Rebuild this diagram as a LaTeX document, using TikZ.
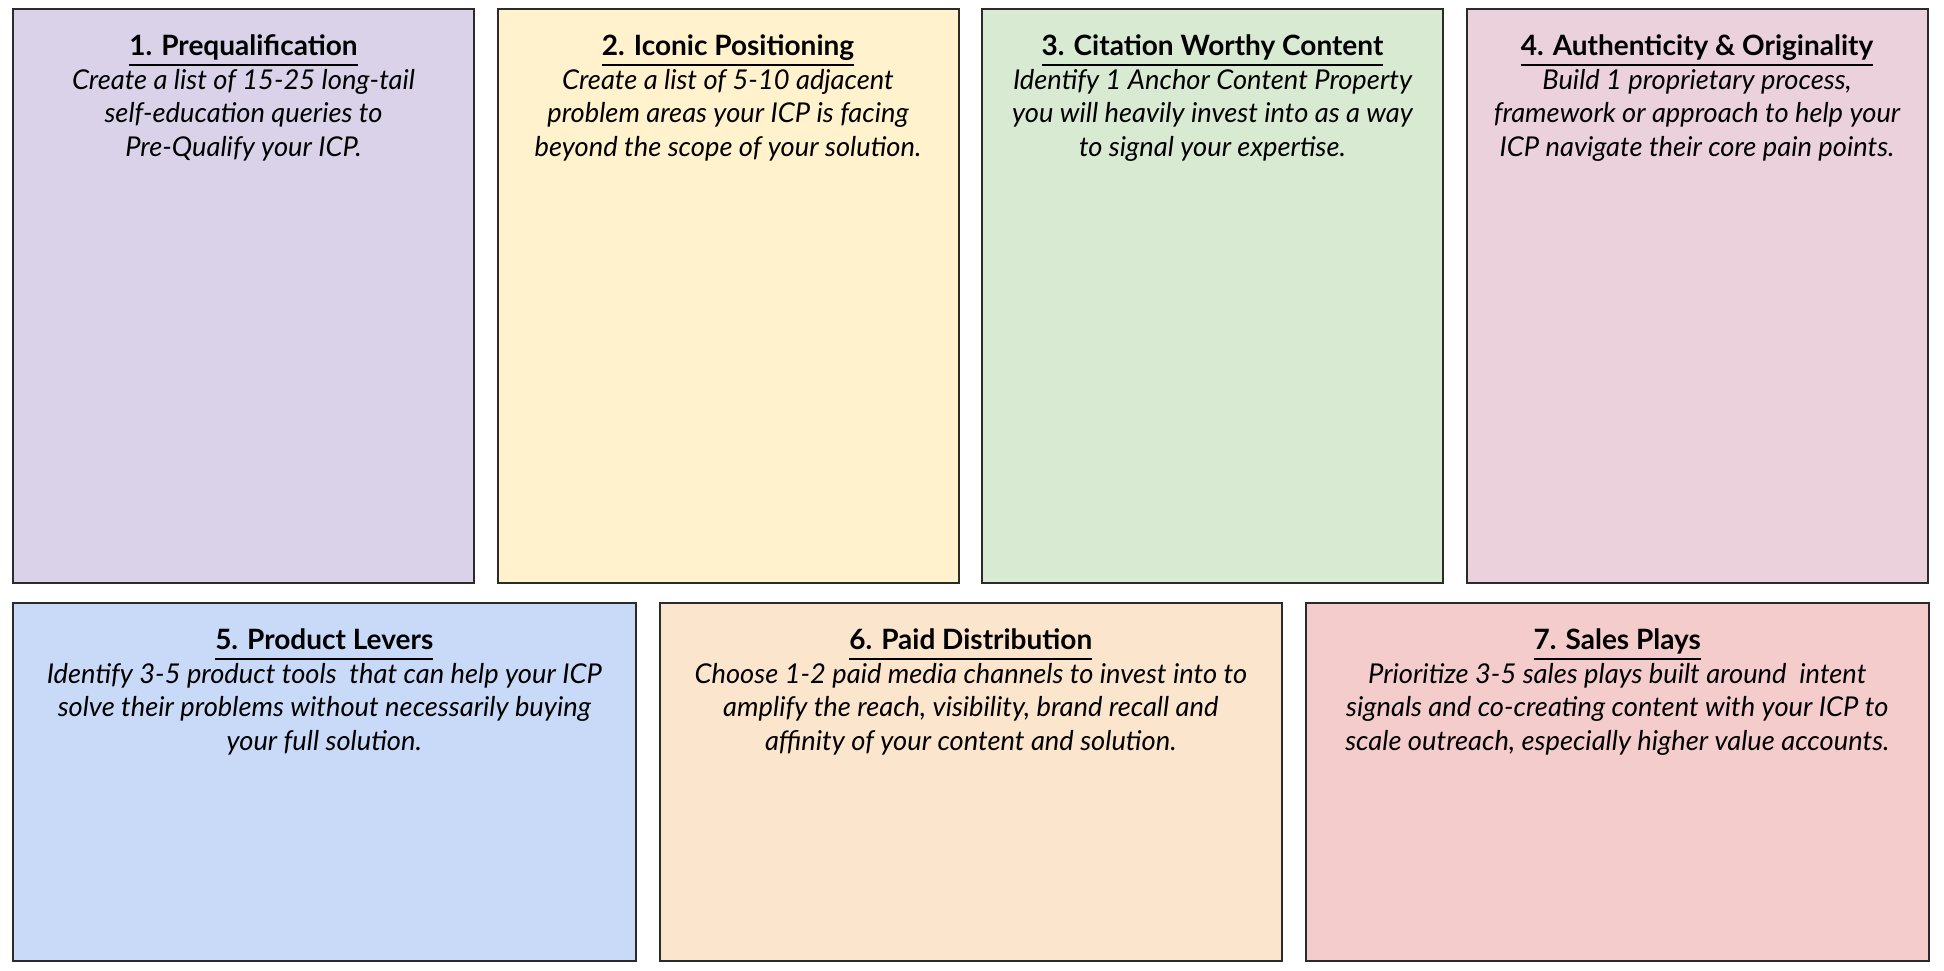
\documentclass[tikz,border=0pt]{standalone}
\usepackage{fontspec}
\setmainfont{Lato}
\definecolor{CardLav}{HTML}{D9D2E9}
\definecolor{CardYel}{HTML}{FFF2CC}
\definecolor{CardGrn}{HTML}{D9EAD3}
\definecolor{CardPnk}{HTML}{EAD1DC}
\definecolor{CardBlu}{HTML}{C9DAF8}
\definecolor{CardOrg}{HTML}{FCE5CD}
\definecolor{CardRed}{HTML}{F4CCCC}
\definecolor{CardLine}{HTML}{2B2B2B}
\newcommand\cardhead[1]{\setbox0\hbox{\fontsize{28}{33.5}\selectfont\upshape\bfseries #1}\rlap{\rule[-10pt]{\wd0}{1.6pt}}\box0}
\usetikzlibrary{positioning}

\begin{document}
\begin{tikzpicture}[x=1pt,y=-1pt,
 card/.style={rectangle,draw=CardLine,line width=2pt,inner sep=0pt,anchor=north west},
 topcard/.style={card,minimum width=461pt,minimum height=574pt},
 lowcard/.style={card,minimum width=622.5pt,minimum height=358pt},
 cardtxt/.style={anchor=north,inner sep=0pt,align=center,
   font=\fontsize{27.3}{33.5}\selectfont\itshape}]
\useasboundingbox (0,0) rectangle (1944,970);
\foreach \n/\x/\c in {pq/12/CardLav,icon/496.5/CardYel,cite/981/CardGrn,auth/1465.5/CardPnk}
 {\node[topcard,fill=\c] (\n) at (\x,8) {};}
\foreach \n/\x/\c in {prod/12/CardBlu,paid/658.5/CardOrg,sales/1305/CardRed}
 {\node[lowcard,fill=\c] (\n) at (\x,602) {};}
% top row
\node[cardtxt] (pq-t) at ([yshift=-26.5pt]pq.north)
 {\cardhead{1. Prequalification}\\ Create a list of 15-25 long-tail\\ self-education queries to\\ Pre-Qualify your ICP.};
\node[cardtxt] (icon-t) at ([yshift=-26.5pt]icon.north)
 {\cardhead{2. Iconic Positioning}\\ Create a list of 5-10 adjacent\\ problem areas your ICP is facing\\ beyond the scope of your solution.};
\node[cardtxt] (cite-t) at ([yshift=-26.5pt]cite.north)
 {\cardhead{3. Citation Worthy Content}\\ Identify 1 Anchor Content Property\\ you will heavily invest into as a way\\ to signal your expertise.};
\node[cardtxt] (auth-t) at ([yshift=-26.5pt]auth.north)
 {\cardhead{4. Authenticity \& Originality}\\ Build 1 proprietary process,\\ framework or approach to help your\\ ICP navigate their core pain points.};
% bottom row
\node[cardtxt] (prod-t) at ([yshift=-26.5pt]prod.north)
 {\cardhead{5. Product Levers}\\ Identify 3-5 product tools\ \ that can help your ICP\\ solve their problems without necessarily buying\\ your full solution.};
\node[cardtxt] (paid-t) at ([yshift=-26.5pt]paid.north)
 {\cardhead{6. Paid Distribution}\\ Choose 1-2 paid media channels to invest into to\\ amplify the reach, visibility, brand recall and\\ affinity of your content and solution.};
\node[cardtxt] (sales-t) at ([yshift=-26.5pt]sales.north)
 {\cardhead{7. Sales Plays}\\ Prioritize 3-5 sales plays built around\ \ intent\\ signals and co-creating content with your ICP to\\ scale outreach, especially higher value accounts.};
\end{tikzpicture}
\end{document}
